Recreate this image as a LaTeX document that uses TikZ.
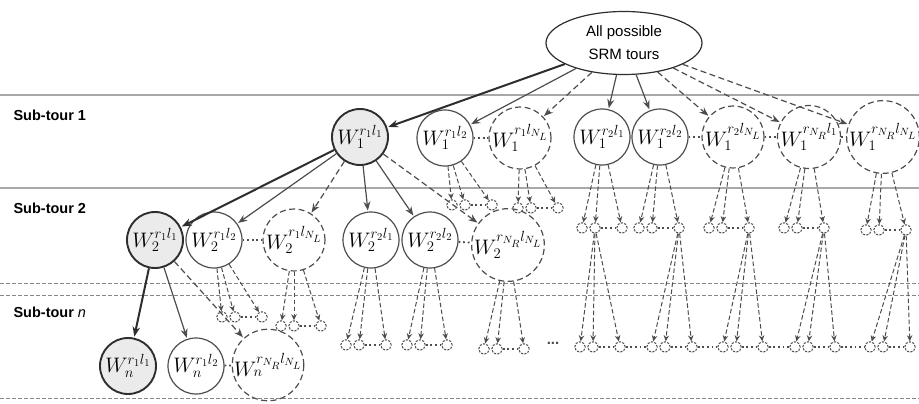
\RequirePackage{fix-cm}
\documentclass[tikz,border=0pt]{standalone}
\usepackage{fontspec}
\setsansfont{Liberation Sans}
\usetikzlibrary{arrows.meta,shapes.geometric}
\definecolor{rulegray}{HTML}{A8A8A8}
\definecolor{edgegray}{HTML}{4D4D4D}
\definecolor{pathgray}{HTML}{2E2E2E}
\definecolor{fillgray}{HTML}{EBEBEB}
\begin{document}
\begin{tikzpicture}[x=1pt,y=-1pt,
    tour/.style={circle, draw=edgegray, line width=1.2pt, minimum size=56pt, inner sep=0pt, font=\fontsize{21}{24}\selectfont},
    chosen/.style={tour, fill=fillgray, draw=pathgray, line width=1.9pt},
    maybe/.style={tour, dash pattern=on 6pt off 3.5pt},
    wide/.style={minimum size=63pt},
    small/.style={circle, draw=edgegray, line width=1pt, dash pattern=on 2.2pt off 1.3pt, minimum size=10.5pt, inner sep=0pt},
    best/.style={-{Stealth[length=10pt,width=7.5pt]}, draw=pathgray, line width=2pt, shorten >=1pt},
    link/.style={-{Stealth[length=9pt,width=7pt]}, draw=edgegray, line width=1.2pt, shorten >=1pt},
    guess/.style={link, dash pattern=on 6pt off 3.5pt},
    fan/.style={-{Stealth[length=6pt,width=5.5pt]}, draw=edgegray, line width=1pt, dash pattern=on 4.5pt off 2.5pt},
    dotlink/.style={draw=edgegray, line width=1.8pt, dash pattern=on 1.8pt off 2.8pt},
    tourlabel/.style={anchor=west, font=\sffamily\bfseries\fontsize{14.5}{17}\selectfont}
]
\useasboundingbox (0,0) rectangle (919,404);

% Bands
\draw[rulegray, line width=1.2pt] (0,95) -- (919,95);
\draw[rulegray, line width=1.2pt] (0,188) -- (919,188);
\draw[rulegray!80!black, line width=0.8pt, dash pattern=on 4pt off 2pt] (0,283) -- (919,283);
\draw[rulegray!80!black, line width=0.8pt, dash pattern=on 4pt off 2pt] (0,295) -- (919,295);
\draw[rulegray!80!black, line width=0.8pt, dash pattern=on 4pt off 2pt] (0,398) -- (919,398);

\node[tourlabel] (sub1) at (10,115) {Sub-tour 1};
\node[tourlabel] (sub2) at (10,208) {Sub-tour 2};
\node[tourlabel] (subn) at (10,312) {Sub-tour \textmd{\textit{n}}};

% Root
\node[ellipse, draw=pathgray, line width=1.2pt, minimum width=156pt, minimum height=63pt, align=center, font=\sffamily\fontsize{15}{23}\selectfont] (root) at (624,43) {All possible\\SRM tours};

% Sub-tour 1
\node[chosen] (w1a) at (360,137) {$W_1^{r_1l_1}$};
\node[tour] (w1b) at (445,138) {$W_1^{r_1l_2}$};
\node[maybe] (w1c) at (520,138) {$W_1^{r_1l_{N_L}}$};
\node[tour] (w1d) at (602,137) {$W_1^{r_2l_1}$};
\node[tour] (w1e) at (660,137) {$W_1^{r_2l_2}$};
\node[maybe] (w1f) at (733,137) {$W_1^{r_2l_{N_L}}$};
\node[maybe, wide] (w1g) at (809,137) {$W_1^{r_{N_R}l_1}$};
\node[maybe, wide] (w1h) at (883,137) {$W_1^{r_{N_R}l_{N_L}}$};

% Sub-tour 2
\node[chosen] (w2a) at (155,240) {$W_2^{r_1l_1}$};
\node[tour] (w2b) at (214,240) {$W_2^{r_1l_2}$};
\node[maybe] (w2c) at (294,240) {$W_2^{r_1l_{N_L}}$};
\node[tour] (w2d) at (371,240) {$W_2^{r_2l_1}$};
\node[tour] (w2e) at (430,240) {$W_2^{r_2l_2}$};
\node[maybe, wide] (w2f) at (508,245) {$W_2^{r_{N_R}l_{N_L}}$};

% Sub-tour n
\node[chosen] (wna) at (128,366) {$W_n^{r_1l_1}$};
\node[tour] (wnb) at (196,366) {$W_n^{r_1l_2}$};
\node[maybe, wide] (wnc) at (268,365) {$W_n^{r_{N_R}l_{N_L}}$};

% Branches
\draw[best] (root) -- (w1a);
\draw[link] (root) -- (w1b);
\draw[guess] (root) -- (w1c);
\draw[link] (root) -- (w1d);
\draw[link] (root) -- (w1e);
\draw[guess] (root) -- (w1f);
\draw[guess] (root) -- (w1g);
\draw[guess] (root) -- (w1h);
\draw[best] (w1a) -- (w2a);
\draw[link] (w1a) -- (w2b);
\draw[guess] (w1a) -- (w2c);
\draw[link] (w1a) -- (w2d);
\draw[link] (w1a) -- (w2e);
\draw[guess] (w1a) -- (w2f);
\draw[best] (w2a) -- (wna);
\draw[link] (w2a) -- (wnb);
\draw[guess] (w2a) -- (wnc);

% Omitted tours
\draw[dotlink] (w1b) -- (w1c);
\draw[dotlink] (w1e) -- (w1f);
\draw[dotlink] (w1f) -- (w1g);
\draw[dotlink] (w1g) -- (w1h);
\draw[dotlink] (w2b) -- (w2c);
\draw[dotlink] (w2e) -- (w2f);
\draw[dotlink] (wnb) -- (wnc);

% Small subtrees
\foreach \g/\x/\y/\p in {g1b/452/205/w1b, g1c/518/208/w1c, gA/582/228/w1d, gB/639/228/w1e,
    gC/709/228/w1f, gD/784/228/w1g, gE/866/230/w1h, gnb/222/317/w2b, gnc/281/326/w2c,
    gnd/346/345/w2d, gne/407/345/w2e, gnf/484/349/w2f, gnA/580/347/gA-2, gnB/652/347/gB-3,
    gnC/723/347/gC-3, gnD/795/347/gD-3, gnE/870/347/gE-3} {
  \node[small] (\g-1) at (\x,\y) {};
  \node[small] (\g-2) at (\x+13,\y) {};
  \node[small] (\g-3) at (\x+40,\y) {};
  \foreach \k in {1,2,3} \draw[fan] (\p) -- (\g-\k);
  \draw[dotlink] (\g-2) -- (\g-3);
}
\draw[dotlink] (gnA-3) -- (gnB-1);
\draw[dotlink] (gnB-3) -- (gnC-1);
\draw[dotlink] (gnC-3) -- (gnD-1);
\draw[dotlink] (gnD-3) -- (gnE-1);
\node[text=edgegray, font=\sffamily\bfseries\fontsize{15}{15}\selectfont] (more) at (553,343) {...};
\end{tikzpicture}
\end{document}
